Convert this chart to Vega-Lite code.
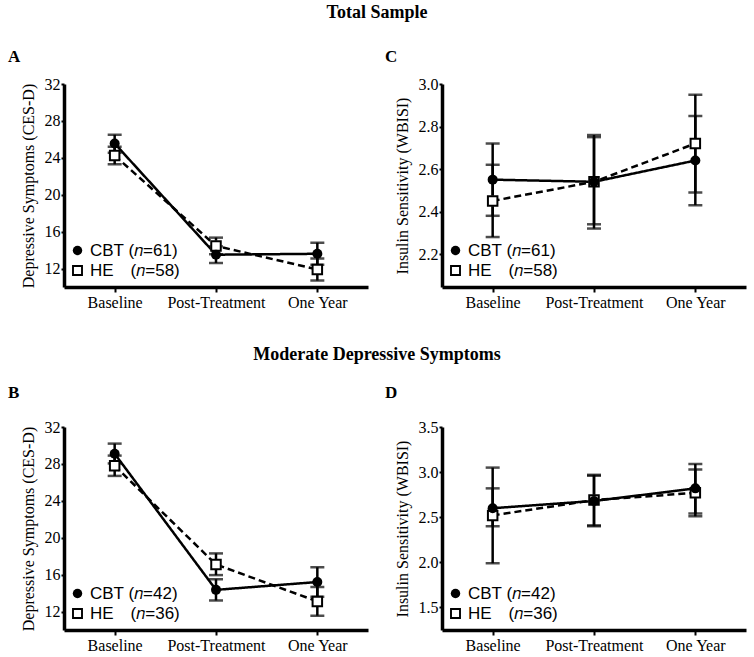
{
  "$schema": "https://vega.github.io/schema/vega-lite/v6.json",
  "padding": {"left": 8, "top": 4, "right": 4, "bottom": 4},
  "background": "white",
  "config": {
    "view": {"stroke": null},
    "font": "Liberation Serif",
    "axis": {"domainColor": "black", "domainWidth": 3.5, "tickColor": "black", "tickWidth": 2, "tickSize": 3, "labelColor": "black", "labelFont": "Liberation Serif", "labelFontSize": 16, "titleFont": "Liberation Serif", "titleFontSize": 16, "titleFontWeight": "normal", "titleColor": "black", "grid": false, "labelPadding": 1, "titlePadding": 8},
    "axisX": {"labelAngle": 0, "title": null, "tickSize": 5, "labelPadding": 2},
    "legend": {"padding": 0, "labelFont": "Liberation Sans", "labelFontSize": 17, "labelColor": "black", "symbolSize": 90, "rowPadding": 2, "labelOffset": 4},
    "title": {"font": "Liberation Serif", "color": "black"}
  },
  "datasets": {
    "d": [
      {"panel": "A", "group": "CBT", "time": "Baseline", "mean": 25.55, "lo": 24.55, "hi": 26.5},
      {"panel": "A", "group": "HE", "time": "Baseline", "mean": 24.25, "lo": 23.3, "hi": 25.2},
      {"panel": "A", "group": "CBT", "time": "Post-Treatment", "mean": 13.5, "lo": 12.6, "hi": 14.4},
      {"panel": "A", "group": "HE", "time": "Post-Treatment", "mean": 14.45, "lo": 13.55, "hi": 15.35},
      {"panel": "A", "group": "CBT", "time": "One Year", "mean": 13.6, "lo": 12.4, "hi": 14.8},
      {"panel": "A", "group": "HE", "time": "One Year", "mean": 11.9, "lo": 10.7, "hi": 13.1},
      {"panel": "C", "group": "CBT", "time": "Baseline", "mean": 2.55, "lo": 2.38, "hi": 2.72},
      {"panel": "C", "group": "HE", "time": "Baseline", "mean": 2.45, "lo": 2.28, "hi": 2.62},
      {"panel": "C", "group": "CBT", "time": "Post-Treatment", "mean": 2.54, "lo": 2.34, "hi": 2.75},
      {"panel": "C", "group": "HE", "time": "Post-Treatment", "mean": 2.54, "lo": 2.32, "hi": 2.76},
      {"panel": "C", "group": "CBT", "time": "One Year", "mean": 2.64, "lo": 2.43, "hi": 2.85},
      {"panel": "C", "group": "HE", "time": "One Year", "mean": 2.72, "lo": 2.49, "hi": 2.95},
      {"panel": "B", "group": "CBT", "time": "Baseline", "mean": 29.1, "lo": 28.05, "hi": 30.2},
      {"panel": "B", "group": "HE", "time": "Baseline", "mean": 27.8, "lo": 26.7, "hi": 28.9},
      {"panel": "B", "group": "CBT", "time": "Post-Treatment", "mean": 14.35, "lo": 13.2, "hi": 15.5},
      {"panel": "B", "group": "HE", "time": "Post-Treatment", "mean": 17.1, "lo": 15.95, "hi": 18.3},
      {"panel": "B", "group": "CBT", "time": "One Year", "mean": 15.2, "lo": 13.6, "hi": 16.8},
      {"panel": "B", "group": "HE", "time": "One Year", "mean": 13.1, "lo": 11.55, "hi": 14.65},
      {"panel": "D", "group": "CBT", "time": "Baseline", "mean": 2.6, "lo": 2.4, "hi": 2.82},
      {"panel": "D", "group": "HE", "time": "Baseline", "mean": 2.52, "lo": 1.99, "hi": 3.05},
      {"panel": "D", "group": "CBT", "time": "Post-Treatment", "mean": 2.68, "lo": 2.4, "hi": 2.96},
      {"panel": "D", "group": "HE", "time": "Post-Treatment", "mean": 2.69, "lo": 2.41, "hi": 2.97},
      {"panel": "D", "group": "CBT", "time": "One Year", "mean": 2.82, "lo": 2.54, "hi": 3.09},
      {"panel": "D", "group": "HE", "time": "One Year", "mean": 2.77, "lo": 2.51, "hi": 3.03}
    ]
  },
  "resolve": {"scale": {"shape": "independent"}, "legend": {"shape": "independent"}},
  "spacing": 36,
  "vconcat": [
    {
      "title": {"text": "Total Sample", "fontSize": 18, "fontWeight": "bold", "anchor": "middle", "offset": 26},
      "spacing": 17,
      "resolve": {"scale": {"shape": "independent"}, "legend": {"shape": "independent"}},
      "hconcat": [
        {
          "width": 304, "height": 203,
          "title": {"text": "A", "anchor": "start", "dx": -12, "fontSize": 17, "fontWeight": "bold", "offset": 10},
          "data": {"name": "d"},
          "transform": [{"filter": "datum.panel == 'A'"}],
          "encoding": {"x": {"field": "time", "type": "ordinal", "sort": ["Baseline", "Post-Treatment", "One Year"], "scale": {"type": "point", "padding": 0.5}}},
          "layer": [
            {"mark": {"type": "rule", "color": "black", "strokeWidth": 2.5}, "encoding": {"y": {"field": "lo", "type": "quantitative", "scale": {"domain": [10, 32], "nice": false, "zero": false}, "axis": {"title": "Depressive Symptoms (CES-D)", "values": [12, 16, 20, 24, 28, 32]}}, "y2": {"field": "hi"}}},
            {"mark": {"type": "tick", "color": "black", "size": 14, "thickness": 2.5}, "encoding": {"y": {"field": "lo", "type": "quantitative"}}},
            {"mark": {"type": "tick", "color": "black", "size": 14, "thickness": 2.5}, "encoding": {"y": {"field": "hi", "type": "quantitative"}}},
            {"mark": {"type": "line", "color": "black", "strokeWidth": 2.5}, "encoding": {"y": {"field": "mean", "type": "quantitative"}, "detail": {"field": "group", "type": "nominal"}, "strokeDash": {"condition": {"test": "datum.group == 'HE'", "value": [7, 4]}, "value": [1, 0]}}},
            {"transform": [{"filter": "datum.group == 'HE'"}], "mark": {"type": "point", "filled": true, "color": "white", "shape": "square", "size": 110, "opacity": 1}, "encoding": {"y": {"field": "mean", "type": "quantitative"}}},
            {"mark": {"type": "point", "filled": true, "color": "black", "size": 100, "opacity": 1, "strokeWidth": 0}, "encoding": {"y": {"field": "mean", "type": "quantitative"},
              "shape": {"field": "group", "type": "nominal", "scale": {"domain": ["CBT", "HE"], "range": ["circle", "M-1.15,-1.15H1.15V1.15H-1.15Z M-0.75,-0.75V0.75H0.75V-0.75Z"]}, "legend": {"title": null, "orient": "none", "legendX": 5, "legendY": 158, "labelExpr": "datum.label == 'CBT' ? 'CBT (\ud835\udc5b=61)' : 'HE\u2002\u2002(\ud835\udc5b=58)'"}}}}
          ]
        },
        {
          "width": 304, "height": 203,
          "title": {"text": "C", "anchor": "start", "dx": -9, "fontSize": 17, "fontWeight": "bold", "offset": 10},
          "data": {"name": "d"},
          "transform": [{"filter": "datum.panel == 'C'"}],
          "encoding": {"x": {"field": "time", "type": "ordinal", "sort": ["Baseline", "Post-Treatment", "One Year"], "scale": {"type": "point", "padding": 0.5}}},
          "layer": [
            {"mark": {"type": "rule", "color": "black", "strokeWidth": 2.5}, "encoding": {"y": {"field": "lo", "type": "quantitative", "scale": {"domain": [2.045, 3.0], "nice": false, "zero": false}, "axis": {"title": "Insulin Sensitivity (WBISI)", "values": [2.2, 2.4, 2.6, 2.8, 3.0], "format": ".1f"}}, "y2": {"field": "hi"}}},
            {"mark": {"type": "tick", "color": "black", "size": 14, "thickness": 2.5}, "encoding": {"y": {"field": "lo", "type": "quantitative"}}},
            {"mark": {"type": "tick", "color": "black", "size": 14, "thickness": 2.5}, "encoding": {"y": {"field": "hi", "type": "quantitative"}}},
            {"mark": {"type": "line", "color": "black", "strokeWidth": 2.5}, "encoding": {"y": {"field": "mean", "type": "quantitative"}, "detail": {"field": "group", "type": "nominal"}, "strokeDash": {"condition": {"test": "datum.group == 'HE'", "value": [7, 4]}, "value": [1, 0]}}},
            {"transform": [{"filter": "datum.group == 'HE'"}], "mark": {"type": "point", "filled": true, "color": "white", "shape": "square", "size": 110, "opacity": 1}, "encoding": {"y": {"field": "mean", "type": "quantitative"}}},
            {"mark": {"type": "point", "filled": true, "color": "black", "size": 100, "opacity": 1, "strokeWidth": 0}, "encoding": {"y": {"field": "mean", "type": "quantitative"},
              "shape": {"field": "group", "type": "nominal", "scale": {"domain": ["CBT", "HE"], "range": ["circle", "M-1.15,-1.15H1.15V1.15H-1.15Z M-0.75,-0.75V0.75H0.75V-0.75Z"]}, "legend": {"title": null, "orient": "none", "legendX": 5, "legendY": 158, "labelExpr": "datum.label == 'CBT' ? 'CBT (\ud835\udc5b=61)' : 'HE\u2002\u2002(\ud835\udc5b=58)'"}}}}
          ]
        }
      ]
    },
    {
      "title": {"text": "Moderate Depressive Symptoms", "fontSize": 18, "fontWeight": "bold", "anchor": "middle", "offset": 20},
      "spacing": 17,
      "resolve": {"scale": {"shape": "independent"}, "legend": {"shape": "independent"}},
      "hconcat": [
        {
          "width": 304, "height": 203,
          "title": {"text": "B", "anchor": "start", "dx": -12, "fontSize": 17, "fontWeight": "bold", "offset": 17},
          "data": {"name": "d"},
          "transform": [{"filter": "datum.panel == 'B'"}],
          "encoding": {"x": {"field": "time", "type": "ordinal", "sort": ["Baseline", "Post-Treatment", "One Year"], "scale": {"type": "point", "padding": 0.5}}},
          "layer": [
            {"mark": {"type": "rule", "color": "black", "strokeWidth": 2.5}, "encoding": {"y": {"field": "lo", "type": "quantitative", "scale": {"domain": [10, 32], "nice": false, "zero": false}, "axis": {"title": "Depressive Symptoms (CES-D)", "values": [12, 16, 20, 24, 28, 32]}}, "y2": {"field": "hi"}}},
            {"mark": {"type": "tick", "color": "black", "size": 14, "thickness": 2.5}, "encoding": {"y": {"field": "lo", "type": "quantitative"}}},
            {"mark": {"type": "tick", "color": "black", "size": 14, "thickness": 2.5}, "encoding": {"y": {"field": "hi", "type": "quantitative"}}},
            {"mark": {"type": "line", "color": "black", "strokeWidth": 2.5}, "encoding": {"y": {"field": "mean", "type": "quantitative"}, "detail": {"field": "group", "type": "nominal"}, "strokeDash": {"condition": {"test": "datum.group == 'HE'", "value": [7, 4]}, "value": [1, 0]}}},
            {"transform": [{"filter": "datum.group == 'HE'"}], "mark": {"type": "point", "filled": true, "color": "white", "shape": "square", "size": 110, "opacity": 1}, "encoding": {"y": {"field": "mean", "type": "quantitative"}}},
            {"mark": {"type": "point", "filled": true, "color": "black", "size": 100, "opacity": 1, "strokeWidth": 0}, "encoding": {"y": {"field": "mean", "type": "quantitative"},
              "shape": {"field": "group", "type": "nominal", "scale": {"domain": ["CBT", "HE"], "range": ["circle", "M-1.15,-1.15H1.15V1.15H-1.15Z M-0.75,-0.75V0.75H0.75V-0.75Z"]}, "legend": {"title": null, "orient": "none", "legendX": 5, "legendY": 158, "labelExpr": "datum.label == 'CBT' ? 'CBT (\ud835\udc5b=42)' : 'HE\u2002\u2002(\ud835\udc5b=36)'"}}}}
          ]
        },
        {
          "width": 304, "height": 203,
          "title": {"text": "D", "anchor": "start", "dx": -9, "fontSize": 17, "fontWeight": "bold", "offset": 17},
          "data": {"name": "d"},
          "transform": [{"filter": "datum.panel == 'D'"}],
          "encoding": {"x": {"field": "time", "type": "ordinal", "sort": ["Baseline", "Post-Treatment", "One Year"], "scale": {"type": "point", "padding": 0.5}}},
          "layer": [
            {"mark": {"type": "rule", "color": "black", "strokeWidth": 2.5}, "encoding": {"y": {"field": "lo", "type": "quantitative", "scale": {"domain": [1.25, 3.5], "nice": false, "zero": false}, "axis": {"title": "Insulin Sensitivity (WBISI)", "values": [1.5, 2.0, 2.5, 3.0, 3.5], "format": ".1f"}}, "y2": {"field": "hi"}}},
            {"mark": {"type": "tick", "color": "black", "size": 14, "thickness": 2.5}, "encoding": {"y": {"field": "lo", "type": "quantitative"}}},
            {"mark": {"type": "tick", "color": "black", "size": 14, "thickness": 2.5}, "encoding": {"y": {"field": "hi", "type": "quantitative"}}},
            {"mark": {"type": "line", "color": "black", "strokeWidth": 2.5}, "encoding": {"y": {"field": "mean", "type": "quantitative"}, "detail": {"field": "group", "type": "nominal"}, "strokeDash": {"condition": {"test": "datum.group == 'HE'", "value": [7, 4]}, "value": [1, 0]}}},
            {"transform": [{"filter": "datum.group == 'HE'"}], "mark": {"type": "point", "filled": true, "color": "white", "shape": "square", "size": 110, "opacity": 1}, "encoding": {"y": {"field": "mean", "type": "quantitative"}}},
            {"mark": {"type": "point", "filled": true, "color": "black", "size": 100, "opacity": 1, "strokeWidth": 0}, "encoding": {"y": {"field": "mean", "type": "quantitative"},
              "shape": {"field": "group", "type": "nominal", "scale": {"domain": ["CBT", "HE"], "range": ["circle", "M-1.15,-1.15H1.15V1.15H-1.15Z M-0.75,-0.75V0.75H0.75V-0.75Z"]}, "legend": {"title": null, "orient": "none", "legendX": 5, "legendY": 158, "labelExpr": "datum.label == 'CBT' ? 'CBT (\ud835\udc5b=42)' : 'HE\u2002\u2002(\ud835\udc5b=36)'"}}}}
          ]
        }
      ]
    }
  ]
}
